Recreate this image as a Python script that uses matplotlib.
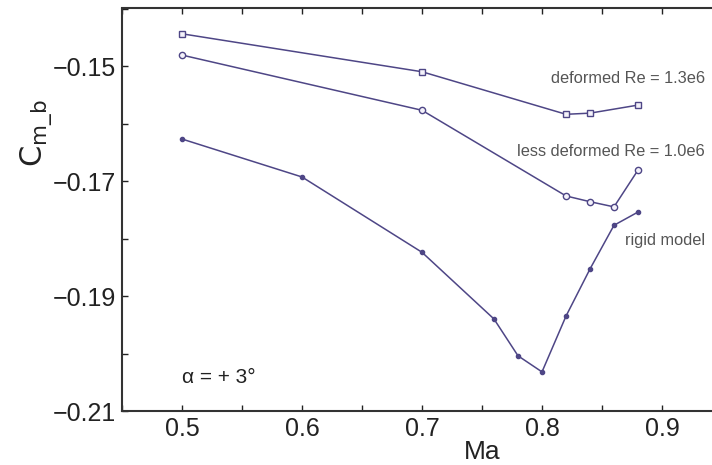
import matplotlib
matplotlib.use("Agg")
import matplotlib.pyplot as plt
import numpy as np

plt.rcParams["font.family"] = ["Liberation Sans", "DejaVu Sans"]

# ── Data ──────────────────────────────────────────────────────────────────────
ma_deformed = [0.50, 0.70, 0.82, 0.84, 0.88]
cm_deformed = [-0.1444, -0.1510, -0.1584, -0.1582, -0.1568]

ma_less = [0.50, 0.70, 0.82, 0.84, 0.86, 0.88]
cm_less = [-0.1481, -0.1577, -0.1726, -0.1736, -0.1745, -0.1681]

ma_rigid = [0.50, 0.60, 0.70, 0.76, 0.78, 0.80, 0.82, 0.84, 0.86, 0.88]
cm_rigid = [-0.1627, -0.1693, -0.1824, -0.1940, -0.2004, -0.2032,
            -0.1935, -0.1853, -0.1777, -0.1754]

x_ticks = np.arange(0.45, 0.951, 0.05)
y_ticks = np.arange(-0.21, -0.139, 0.01)

_LINE = "#4e4686"
_TEXT = "#222222"
_NOTE = "#555555"

fig = plt.figure(figsize=(7.12, 4.65), dpi=100)
ax = fig.add_axes([122 / 712, 54 / 465, 600 / 712, 402.5 / 465])

ax.plot(ma_deformed, cm_deformed, color=_LINE, lw=1.1, marker="s", ms=4.5,
        mfc="#f4f2fa", mec=_LINE, mew=1.0)
ax.plot(ma_less, cm_less, color=_LINE, lw=1.1, marker="o", ms=4.5,
        mfc="#f4f2fa", mec=_LINE, mew=1.0)
ax.plot(ma_rigid, cm_rigid, color=_LINE, lw=1.1, marker="o", ms=3,
        mfc=_LINE, mec=_LINE)

ax.set_xlim(0.45, 0.95)
ax.set_ylim(-0.21, -0.14)

ax.set_xticks(x_ticks)
ax.set_xticklabels([f"{v:.1f}" if round(v * 100) % 10 == 0 else "" for v in x_ticks])
ax.set_yticks(y_ticks)
ax.set_yticklabels([f"{v:.2f}".replace("-", "\u2212") if round(abs(v) * 100) % 2 == 1 else ""
                    for v in y_ticks])
ax.tick_params(direction="in", length=4, width=1, top=True, right=True,
               labelsize=18, colors=_TEXT, pad=4)

for s in ax.spines.values():
    s.set_color("#333333")
    s.set_linewidth(1.5)

ax.set_xlabel("Ma", fontsize=19, color=_TEXT)
ax.xaxis.set_label_coords(0.60, -0.072)
ax.set_ylabel(r"$\mathsf{C}_{\mathsf{m\_b}}$", fontsize=22, color=_TEXT)
ax.yaxis.set_label_coords(-0.112, 0.69)

ax.text(0.9358, -0.1521, "deformed Re = 1.3e6", ha="right", va="center",
        fontsize=11.8, color=_NOTE)
ax.text(0.9358, -0.1648, "less deformed Re = 1.0e6", ha="right", va="center",
        fontsize=11.8, color=_NOTE)
ax.text(0.9358, -0.1803, "rigid model", ha="right", va="center",
        fontsize=11.8, color=_NOTE)
ax.text(0.50, -0.2041, "\u03b1 = + 3\u00b0", ha="left", va="center",
        fontsize=15, color=_TEXT)

fig.savefig("out.png", dpi=100, facecolor="white")
